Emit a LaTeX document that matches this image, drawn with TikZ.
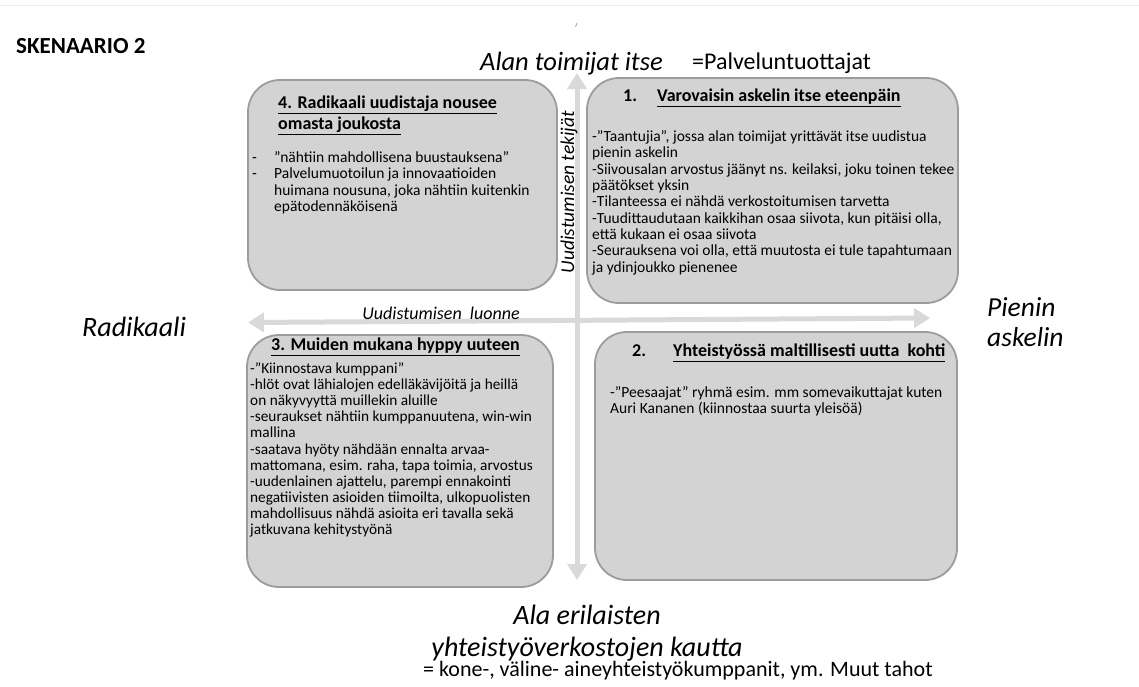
\documentclass[tikz,border=0pt]{standalone}
\usepackage{fontspec}
\setmainfont{Carlito}
\usetikzlibrary{arrows.meta}
\definecolor{boxfill}{HTML}{D3D3D3}
\definecolor{boxline}{HTML}{9C9C9C}
\definecolor{axisgray}{HTML}{D9D9D9}
\begin{document}
\begin{tikzpicture}[x=1pt,y=-1pt,
  quad/.style={draw=boxline, line width=1.8pt, fill=boxfill, rounded corners=32pt, inner sep=0pt},
  body/.style={anchor=north west, align=left, inner sep=0pt, font=\fontsize{15.5}{16.3}\selectfont},
  ttl/.style={inner sep=0pt, font=\bfseries\fontsize{18}{20.5}\selectfont},
  axislbl/.style={inner sep=0pt, font=\itshape\fontsize{27.5}{30}\selectfont},
  plainlbl/.style={inner sep=0pt, font=\fontsize{24}{26}\selectfont},
  axisarrow/.style={draw=axisgray, line width=5pt,
    {Triangle[width=19pt,length=16pt]}-{Triangle[width=19pt,length=16pt]}}]
\useasboundingbox (0,0) rectangle (1139,686);
\fill[white] (0,0) rectangle (1139,686);
% faint top rule and tiny mark
\draw[gray!15, line width=1pt] (0,5) -- (1139,5);
\draw[gray!70, line width=0.8pt] (575.5,27) -- (577,23);

% axes
\coordinate (vtop) at (577,73);
\coordinate (vbot) at (577,580);
\coordinate (hleft) at (248,322.5);
\coordinate (hright) at (930,318);
\draw[axisarrow] (vbot) -- (vtop);
\draw[axisarrow] (hleft) -- (hright);

% quadrant boxes
\node[quad, minimum width=309pt, minimum height=210pt] (q4) at (402.5,185) {};
\node[quad, minimum width=371pt, minimum height=225pt] (q1) at (772.5,190.5) {};
\node[quad, minimum width=306pt, minimum height=252pt] (q3) at (400,461) {};
\node[quad, minimum width=362pt, minimum height=248pt] (q2) at (776,456) {};

% box 4
\node[ttl, anchor=north west, align=left] (t4) at (278,96)
  {\underline{4. Radikaali uudistaja nousee}\\\underline{omasta joukosta}};
\node[body] (b4) at (252,151.5)
  {\makebox[22pt][l]{-}”nähtiin mahdollisena buustauksena”\\
   \makebox[22pt][l]{-}Palvelumuotoilun ja innovaatioiden\\
   \hspace*{22pt}huimana nousuna, joka nähtiin kuitenkin\\
   \hspace*{22pt}epätodennäköisenä};

% box 1
\node[ttl, anchor=west] (t1) at (623,98)
  {1.\hspace{20pt}\underline{Varovaisin askelin itse eteenpäin}};
\node[body] (b1) at (592,130.5)
  {-”Taantujia”, jossa alan toimijat yrittävät itse uudistua\\
   pienin askelin\\
   -Siivousalan arvostus jäänyt ns. keilaksi, joku toinen tekee\\
   päätökset yksin\\
   -Tilanteessa ei nähdä verkostoitumisen tarvetta\\
   -Tuudittaudutaan kaikkihan osaa siivota, kun pitäisi olla,\\
   että kukaan ei osaa siivota\\
   -Seurauksena voi olla, että muutosta ei tule tapahtumaan\\
   ja ydinjoukko pienenee};

% box 3
\node[ttl] (t3) at (395.5,347) {\underline{3. Muiden mukana hyppy uuteen}};
\node[body, font=\fontsize{15.3}{16.1}\selectfont] (b3) at (250,362.5)
  {-”Kiinnostava kumppani”\\
   -hlöt ovat lähialojen edelläkävijöitä ja heillä\\
   on näkyvyyttä muillekin aluille\\
   -seuraukset nähtiin kumppanuutena, win-win\\
   mallina\\
   -saatava hyöty nähdään ennalta arvaa-\\
   mattomana, esim. raha, tapa toimia, arvostus\\
   -uudenlainen ajattelu, parempi ennakointi\\
   negatiivisten asioiden tiimoilta, ulkopuolisten\\
   mahdollisuus nähdä asioita eri tavalla sekä\\
   jatkuvana kehitystyönä};

% box 2
\node[ttl, anchor=west] (t2) at (632,353)
  {2.\hspace{27pt}\underline{Yhteistyössä maltillisesti uutta\ \ kohti}};
\node[body, font=\fontsize{15.5}{15.8}\selectfont] (b2) at (610,386.5)
  {-”Peesaajat” ryhmä esim. mm somevaikuttajat kuten\\
   Auri Kananen (kiinnostaa suurta yleisöä)};

% labels
\node[inner sep=0pt, anchor=west, font=\bfseries\fontsize{23}{26}\selectfont] (title) at (16,46) {SKENAARIO 2};
\node[axislbl, anchor=base west, font=\itshape\fontsize{26.5}{30}\selectfont] (ltop) at (480,70) {Alan toimijat itse};
\node[plainlbl, anchor=base west] (ltop2) at (692,69) {=Palveluntuottajat};
\node[axislbl, anchor=west, font=\itshape\fontsize{28}{30}\selectfont] (lleft) at (82,327) {Radikaali};
\node[axislbl, anchor=base west, align=left] (lright) at (987,346) {Pienin\\askelin};
\node[axislbl, anchor=base, align=center, font=\itshape\fontsize{28}{32}\selectfont] (lbot) at (587,656) {Ala erilaisten\\yhteistyöverkostojen kautta};
\node[plainlbl, anchor=base west, font=\fontsize{22}{24}\selectfont] (lbot2) at (423,676) {= kone-, väline- aineyhteistyökumppanit, ym. Muut tahot};
\node[inner sep=0pt, font=\itshape\fontsize{18}{20}\selectfont] (lh) at (441,313) {Uudistumisen\ \ luonne};
\node[inner sep=0pt, font=\itshape\fontsize{19.5}{22}\selectfont, rotate=90] (lv) at (569,192) {Uudistumisen tekijät};
\end{tikzpicture}
\end{document}
